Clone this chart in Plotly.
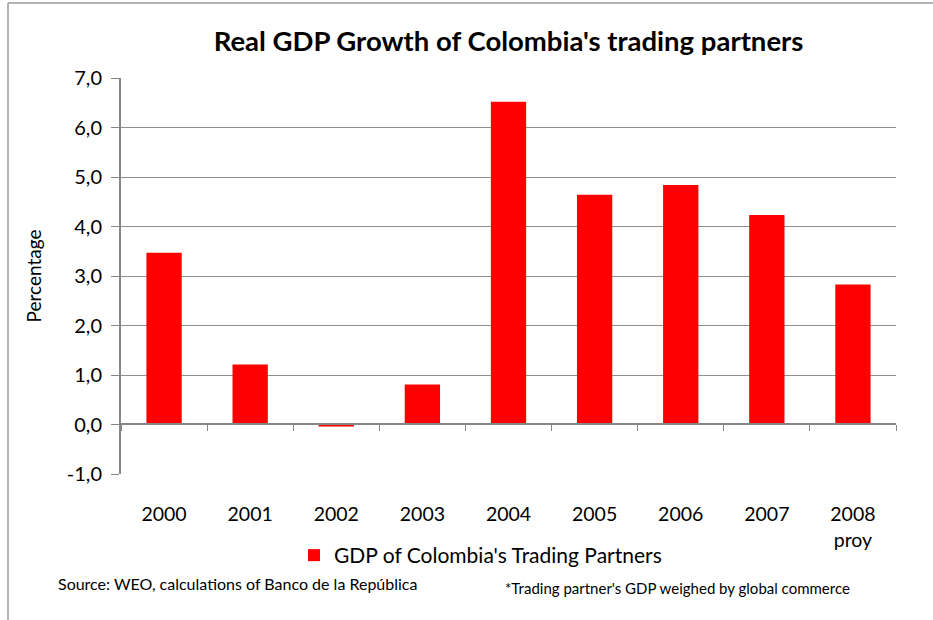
import plotly.graph_objects as go

# ---- data ----
years = ["2000", "2001", "2002", "2003", "2004", "2005", "2006", "2007", "2008<br>proy"]
gdp_growth = [3.47, 1.21, -0.04, 0.81, 6.52, 4.64, 4.84, 4.23, 2.83]
series_name = "GDP of Colombia's Trading Partners"
y_ticks = [-1, 0, 1, 2, 3, 4, 5, 6, 7]
y_ticktext = [f"{v:.1f}".replace(".", ",") for v in y_ticks]

W, H = 933, 620
L, R, T, B = 121, 37, 78, 146
PW, PH = W - L - R, H - T - B


def px(xp):
    return (xp - L) / PW


def py(yp):
    return (H - B - yp) / PH


FONT = "Lato, Calibri, 'Open Sans', sans-serif"
GRID = "#8f8f8f"
AX = "#868686"

fig = go.Figure()
fig.add_trace(go.Bar(
    x=years, y=gdp_growth, name=series_name,
    marker=dict(color="#FF0000", line=dict(width=0)),
    xaxis="x", yaxis="y",
))
# invisible trace to carry the zero-crossing axis (ticks between categories)
fig.add_trace(go.Scatter(
    x=years, y=[0] * len(years), xaxis="x2", yaxis="y",
    mode="markers", marker=dict(opacity=0), showlegend=False, hoverinfo="skip",
))

fig.update_layout(
    width=W, height=H,
    margin=dict(l=L, r=R, t=T, b=B),
    paper_bgcolor="white", plot_bgcolor="white",
    font=dict(family=FONT, color="#000000", size=19),
    bargap=0.59,
    title=dict(
        text="<b>Real GDP Growth of Colombia's trading partners</b>",
        x=px(508.5), xref="paper", xanchor="center",
        y=1 - 41 / H, yref="container", yanchor="middle",
        font=dict(family=FONT, size=27.5, color="#000000"),
    ),
    xaxis=dict(
        type="category", categoryorder="array", categoryarray=years,
        showline=False, showgrid=False, zeroline=False,
        ticks="outside", ticklen=23, tickcolor="rgba(0,0,0,0)",
        tickfont=dict(size=19.5), tickangle=0,
    ),
    xaxis2=dict(
        type="category", categoryorder="array", categoryarray=years,
        overlaying="x", matches="x", anchor="free", position=py(424.3),
        showline=True, linecolor=AX, linewidth=2,
        ticks="outside", tickson="boundaries", ticklen=6, tickcolor=AX, tickwidth=1,
        showticklabels=False, showgrid=False, zeroline=False,
    ),
    yaxis=dict(
        range=[-1, 7], tickmode="array", tickvals=y_ticks, ticktext=y_ticktext,
        showgrid=True, gridcolor=GRID, gridwidth=1,
        zeroline=False,
        showline=True, linecolor=AX, linewidth=2,
        ticks="outside", ticklen=8, tickcolor=AX, tickwidth=1,
        ticklabelstandoff=5,
        tickfont=dict(size=20),
        title=dict(text="Percentage", font=dict(size=19), standoff=20),
    ),
    legend=dict(
        orientation="h", x=px(294), xanchor="left", y=py(535), yanchor="top",
        font=dict(size=21), bgcolor="rgba(0,0,0,0)",
    ),
    showlegend=True,
)

fig.add_annotation(
    text="Source: WEO, calculations of Banco de la República",
    xref="paper", yref="paper", x=px(56), y=py(583), xanchor="left", yanchor="middle",
    showarrow=False, font=dict(size=16),
)
fig.add_annotation(
    text="*Trading partner's GDP weighed by global commerce",
    xref="paper", yref="paper", x=px(503), y=py(588), xanchor="left", yanchor="middle",
    showarrow=False, font=dict(size=15),
)

# outer frame (top and left edges)
fig.add_shape(type="line", xref="paper", yref="paper",
              x0=px(8), x1=px(933), y0=py(3), y1=py(3),
              line=dict(color="#9a9a9a", width=1.5))
fig.add_shape(type="line", xref="paper", yref="paper",
              x0=px(8), x1=px(8), y0=py(3), y1=py(620),
              line=dict(color="#9a9a9a", width=1.5))

fig.write_html("out.html")
